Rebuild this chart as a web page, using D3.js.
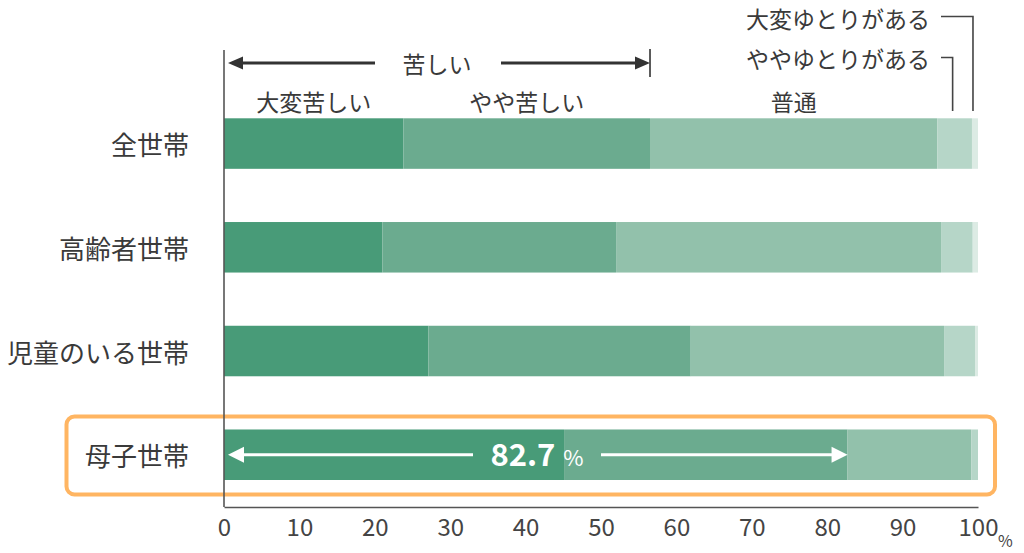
<!DOCTYPE html>
<html><head><meta charset="utf-8">
<script src="https://cdn.jsdelivr.net/npm/d3@7"></script>
<style>
html,body{margin:0;padding:0;background:#fff;}
svg{display:block;font-family:"Noto Sans CJK JP","Noto Sans",sans-serif;}
</style></head>
<body><svg id="c" width="1024" height="553"></svg>
<script>
const categories = ['全世帯','高齢者世帯','児童のいる世帯','母子世帯'];
const seriesNames = ['大変苦しい','やや苦しい','普通','ややゆとりがある','大変ゆとりがある'];
const veryHard   = [23.8, 21.0, 27.1, 45.1];
const hard       = [32.7, 31.0, 34.8, 37.6];
const normal     = [38.1, 43.1, 33.6, 16.4];
const someLeeway = [4.6, 4.2, 4.1, 0.9];
const muchLeeway = [0.8, 0.7, 0.4, 0.0];
const xTicks = [0,10,20,30,40,50,60,70,80,90,100];
const colors = ['#489b78','#6bab8f','#92c1ab','#b6d6c8','#dcebe4'];

const series = [veryHard, hard, normal, someLeeway, muchLeeway];
const rows = categories.map((c,i)=>{
  const o = {cat:c};
  seriesNames.forEach((s,j)=>o[s]=series[j][i]);
  return o;
});
const stacked = d3.stack().keys(seriesNames)(rows);

const svg = d3.select('#c');
const x = d3.scaleLinear().domain([0,100]).range([224,978]);
const y = d3.scaleBand().domain(categories).range([118.3,480]).paddingInner(0.513).paddingOuter(0);
const axisY = 507, axisTop = 50;
const txt = '#3a3a3a', lineC = '#555';

// highlight box
svg.append('rect').attr('x',66.5).attr('y',416.5).attr('width',928.5).attr('height',78)
  .attr('rx',8).attr('fill','none').attr('stroke','#ffb562').attr('stroke-width',4);

// bars
svg.append('g').selectAll('g').data(stacked).join('g')
  .attr('fill',(d,i)=>colors[i])
  .selectAll('rect').data(d=>d).join('rect')
  .attr('x',d=>x(d[0])).attr('width',d=>x(d[1])-x(d[0]))
  .attr('y',d=>y(d.data.cat)).attr('height',y.bandwidth());

// axes
svg.append('line').attr('x1',x(0)).attr('x2',x(0)).attr('y1',axisTop).attr('y2',axisY)
  .attr('stroke',lineC).attr('stroke-width',1.6);
const xAxis = svg.append('g').attr('transform',`translate(0,${axisY})`)
  .call(d3.axisBottom(x).tickValues(xTicks).tickSize(0).tickPadding(12).tickFormat(d3.format('d')));
xAxis.select('.domain').attr('stroke',lineC).attr('stroke-width',1.6);
xAxis.selectAll('text').attr('font-size',24).attr('fill','#444')
  .attr('font-family','"Noto Sans CJK JP",sans-serif');
svg.append('text').attr('x',x(100)+20).attr('y',547).attr('font-size',16).attr('fill','#444').text('%');

// category labels
svg.append('g').selectAll('text').data(categories).join('text')
  .attr('x',189).attr('y',d=>y(d)+y.bandwidth()/2)
  .attr('text-anchor','end').attr('dominant-baseline','central')
  .attr('font-size',26).attr('fill',txt).text(d=>d);

// segment labels above bar 1
const b1 = stacked.map(s=>s[0]);
[0,1,2].forEach(j=>{
  svg.append('text').attr('x',(x(b1[j][0])+x(b1[j][1]))/2).attr('y',101)
    .attr('text-anchor','middle').attr('dominant-baseline','central')
    .attr('font-size',23).attr('fill',txt).text(seriesNames[j]);
});

// 苦しい arrow
const hardTotal0 = veryHard[0]+hard[0];
const ay = 63, ax0 = x(0)+4, ax1 = x(hardTotal0);
const amid = (x(0)+x(hardTotal0))/2;
svg.append('text').attr('x',amid).attr('y',ay).attr('text-anchor','middle')
  .attr('dominant-baseline','central').attr('font-size',23).attr('fill',txt).text('苦しい');
svg.append('line').attr('x1',ax0+12).attr('x2',amid-62).attr('y1',ay).attr('y2',ay).attr('stroke','#333').attr('stroke-width',2.8);
svg.append('line').attr('x1',amid+64).attr('x2',ax1-12).attr('y1',ay).attr('y2',ay).attr('stroke','#333').attr('stroke-width',2.8);
svg.append('path').attr('d',`M${ax0},${ay} L${ax0+15},${ay-6.5} L${ax0+15},${ay+6.5} Z`).attr('fill','#333');
svg.append('path').attr('d',`M${ax1},${ay} L${ax1-15},${ay-6.5} L${ax1-15},${ay+6.5} Z`).attr('fill','#333');
svg.append('line').attr('x1',ax1).attr('x2',ax1).attr('y1',49).attr('y2',77).attr('stroke','#333').attr('stroke-width',1.6);

// leeway brackets
const lx1 = x(b1[3][0]+ (b1[3][1]-b1[3][0])/2) - 2;
const lx2 = x(b1[4][0]+ (b1[4][1]-b1[4][0])/2) - 2;
const textEnd = 930, bracketStart = 941, bracketBottom = 111;
svg.append('text').attr('x',textEnd).attr('y',18).attr('text-anchor','end').attr('dominant-baseline','central')
  .attr('font-size',23).attr('fill',txt).text(seriesNames[4]);
svg.append('text').attr('x',textEnd).attr('y',58).attr('text-anchor','end').attr('dominant-baseline','central')
  .attr('font-size',23).attr('fill',txt).text(seriesNames[3]);
svg.append('path').attr('d',`M${bracketStart},16.5 H${lx2} V${bracketBottom}`).attr('fill','none').attr('stroke','#444').attr('stroke-width',1.6);
svg.append('path').attr('d',`M${bracketStart},57.5 H${lx1} V${bracketBottom}`).attr('fill','none').attr('stroke','#444').attr('stroke-width',1.6);

// 母子世帯 82.7% arrow
const hardTotal3 = +(veryHard[3]+hard[3]).toFixed(1);
const by = y(categories[3]) + y.bandwidth()/2;
const bx0 = x(0)+4, bx1 = x(hardTotal3);
svg.append('line').attr('x1',bx0+12).attr('x2',473).attr('y1',by).attr('y2',by).attr('stroke','#fff').attr('stroke-width',3);
svg.append('line').attr('x1',601).attr('x2',bx1-12).attr('y1',by).attr('y2',by).attr('stroke','#fff').attr('stroke-width',3);
svg.append('path').attr('d',`M${bx0},${by} L${bx0+16},${by-8} L${bx0+16},${by+8} Z`).attr('fill','#fff');
svg.append('path').attr('d',`M${bx1},${by} L${bx1-16},${by-8} L${bx1-16},${by+8} Z`).attr('fill','#fff');
const lbl = svg.append('text').attr('x',537).attr('y',by+11).attr('text-anchor','middle').attr('fill','#fff');
lbl.append('tspan').attr('font-size',31).attr('font-weight','bold').text(hardTotal3.toFixed(1));
lbl.append('tspan').attr('font-size',22).attr('dx',8).text('%');
</script></body></html>
